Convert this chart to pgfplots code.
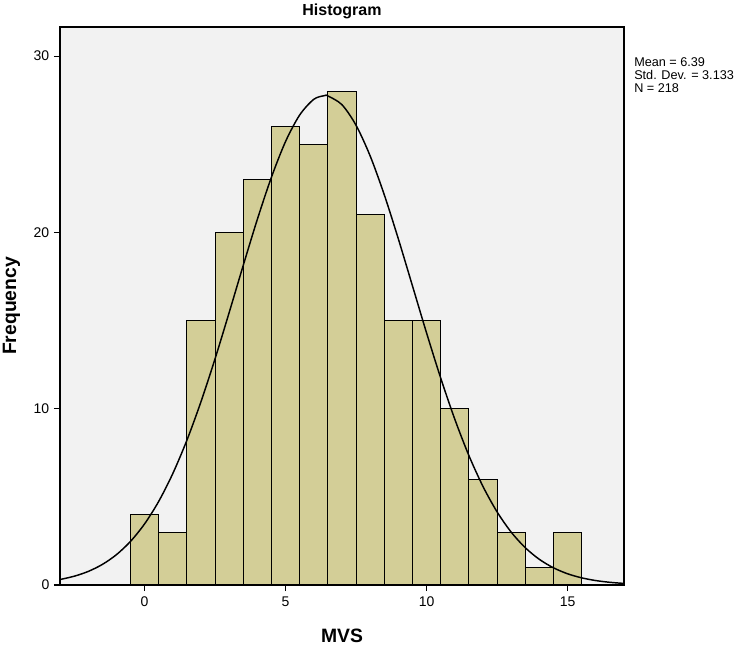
\documentclass[border=0pt]{standalone}
\usepackage{fontspec}
\setmainfont{Liberation Sans}
\usepackage{pgfplots}
\pgfplotsset{compat=1.18}
\definecolor{barfill}{HTML}{D3CE97}
\definecolor{plotbg}{HTML}{F2F2F2}

\begin{document}
\begin{tikzpicture}
% page = 750x647 px at 0.75pt/px, plot area 60..624 x 27..585 px
\useasboundingbox (-45pt,-46.5pt) rectangle (517.5pt,438.75pt);
\begin{axis}[
  at={(0,0)}, anchor=south west,
  scale only axis,
  width=423pt, height=418.5pt,
  xmin=-3, xmax=17, ymin=0, ymax=31.65,
  xtick={0,5,10,15}, ytick={0,10,20,30},
  tick align=outside, xtick pos=bottom, ytick pos=left,
  major tick length=4.5pt,
  tick style={black,line width=0.8pt},
  axis line style={black,line width=0.8pt},
  axis background/.style={fill=plotbg},
  /pgf/number format/assume math mode=true,
  tick label style={font=\fontsize{10.5}{12}\selectfont},
  xticklabel style={yshift=-1pt},
  xlabel={\textbf{MVS}},
  xlabel style={font=\fontsize{14.5}{16}\selectfont, inner sep=0pt, at={(axis description cs:0.5,-0.0913)}, anchor=center},
  ylabel={\textbf{Frequency}},
  ylabel style={font=\fontsize{14.5}{16}\selectfont, inner sep=0pt, at={(axis description cs:-0.086,0.5)}, anchor=center},
  clip=true,
]
% histogram counts, bins of width 1 centred on integers
\addplot[ybar, bar width=1, bar shift=0pt, fill=barfill, draw=black, line width=0.8pt]
 coordinates {
  (0,4) (1,3) (2,15) (3,20) (4,23) (5,26) (6,25) (7,28)
  (8,21) (9,15) (10,15) (11,10) (12,6) (13,3) (14,1) (15,3)
 };
% normal curve, mean 6.39, sd 3.133, N 218
\addplot[smooth, black, line width=1.1pt, mark=none]
 coordinates {
  (-3,0.311) (-2.5,0.496) (-2,0.769) (-1.5,1.165) (-1,1.719) (-0.5,2.473)
  (0,3.468) (0.5,4.742) (1,6.321) (1.5,8.212) (2,10.40) (2.5,12.84)
  (3,15.46) (3.5,18.14) (4,20.75) (4.5,23.14) (5,25.16) (5.5,26.66)
  (6,27.55) (6.39,27.76) (6.5,27.74) (7,27.24) (7.5,26.07) (8,24.33)
  (8.5,22.13) (9,19.62) (9.5,16.96) (10,14.29) (10.5,11.74) (11,9.403)
  (11.5,7.342) (12,5.588) (12.5,4.145) (13,2.998) (13.5,2.114) (14,1.453)
  (14.5,0.974) (15,0.636) (15.5,0.405) (16,0.2515) (16.5,0.152) (17,0.0897)
 };
\end{axis}
\node[anchor=base, inner sep=0pt, font=\fontsize{12}{14}\selectfont\bfseries] at (211.5pt,427pt) {Histogram};
\node[anchor=north west, align=left, font=\fontsize{9.5}{10}\selectfont, inner sep=0pt]
  at (430.5pt,396pt)
  {Mean = 6.39\\Std. Dev. = 3.133\\N = 218};
\end{tikzpicture}
\end{document}
